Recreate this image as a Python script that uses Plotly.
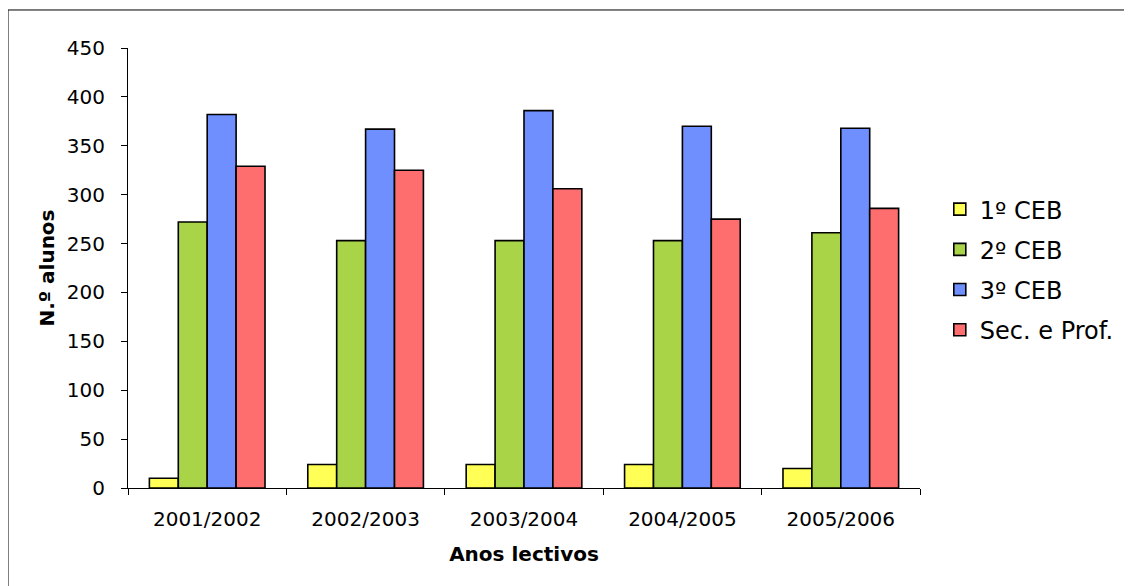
import plotly.graph_objects as go

anos = ["2001/2002", "2002/2003", "2003/2004", "2004/2005", "2005/2006"]
ceb1 = [10, 24, 24, 24, 20]
ceb2 = [272, 253, 253, 253, 261]
ceb3 = [382, 367, 386, 370, 368]
sec_prof = [329, 325, 306, 275, 286]

series_names = ["1º CEB", "2º CEB", "3º CEB", "Sec. e Prof."]
series_values = [ceb1, ceb2, ceb3, sec_prof]
series_colors = ["#FFFF55", "#AAD448", "#6F8FFF", "#FF6E6E"]

y_ticks = [0, 50, 100, 150, 200, 250, 300, 350, 400, 450]

FONT = "Verdana, DejaVu Sans, sans-serif"

fig = go.Figure()
for i, (name, vals, col) in enumerate(zip(series_names, series_values, series_colors)):
    fig.add_trace(go.Bar(
        x=anos, y=vals, name=name,
        marker=dict(color=col, line=dict(color="black", width=1.6)),
        legendgroup=f"g{i}",
    ))

fig.update_layout(
    width=1124, height=578,
    margin=dict(l=120, r=212, t=40, b=98),
    paper_bgcolor="white", plot_bgcolor="white",
    barmode="group", bargap=0.27, bargroupgap=0,
    font=dict(family=FONT, color="black", size=20),
    showlegend=True,
    legend=dict(
        x=1.025, xanchor="left", y=0.684, yanchor="top",
        font=dict(family=FONT, size=24, color="black"),
        tracegroupgap=6, itemwidth=30,
        bgcolor="rgba(0,0,0,0)",
    ),
    xaxis=dict(
        showline=True, linecolor="black", linewidth=1,
        ticks="outside", ticklen=6, tickcolor="black", tickson="boundaries",
        tickfont=dict(family=FONT, size=20),
        ticklabelstandoff=13,
        title=dict(text="<b>Anos lectivos</b>", font=dict(family=FONT, size=20), standoff=16),
        showgrid=False,
    ),
    yaxis=dict(
        range=[0, 450], tickvals=y_ticks,
        showline=True, linecolor="black", linewidth=1,
        ticks="outside", ticklen=6, tickcolor="black",
        tickfont=dict(family=FONT, size=20),
        ticklabelstandoff=12,
        title=dict(text="<b>N.º alunos</b>", font=dict(family=FONT, size=20), standoff=6),
        showgrid=False, zeroline=False,
    ),
    shapes=[dict(
        type="rect", xref="paper", yref="paper",
        x0=-0.1515, x1=1.3, y0=-0.4, y1=1.0864,
        line=dict(color="black", width=1), fillcolor="rgba(0,0,0,0)", layer="below",
    )],
)

fig.write_html("out.html")
